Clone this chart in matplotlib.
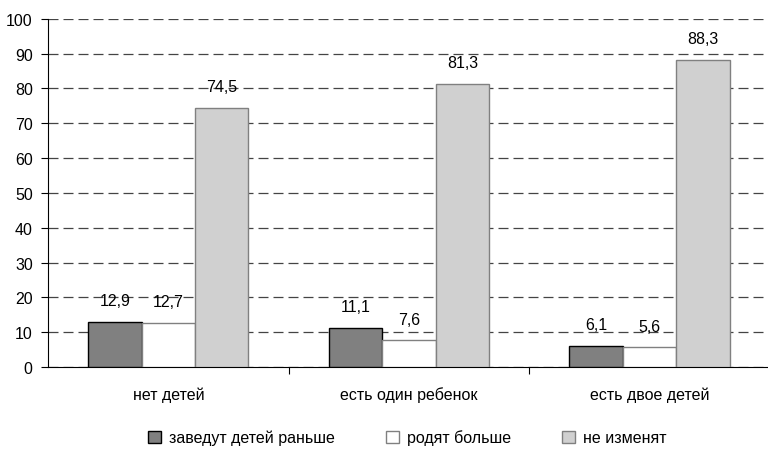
import numpy as np
import matplotlib.pyplot as plt

plt.rcParams['font.family'] = ['Liberation Sans', 'DejaVu Sans']

categories = ['нет детей', 'есть один ребенок', 'есть двое детей']
series = ['заведут детей раньше', 'родят больше', 'не изменят']
earlier = [12.9, 11.1, 6.1]
more = [12.7, 7.6, 5.6]
no_change = [74.5, 81.3, 88.3]

values = [earlier, more, no_change]
faces = ['#808080', '#ffffff', '#d0d0d0']
edges = ['#000000', '#808080', '#808080']

fig = plt.figure(figsize=(7.68, 4.52), dpi=100)
ax = fig.add_axes([0.0625, 0.186, 0.94, 0.770])

x = np.arange(len(categories))
w = 0.222
for i, (vals, fc, ec, name) in enumerate(zip(values, faces, edges, series)):
    pos = x + (i - 1) * w
    ax.bar(pos, vals, width=w, color=fc, edgecolor=ec, linewidth=1, label=name, zorder=3)
    for p, v in zip(pos, vals):
        ax.annotate(f'{v:.1f}'.replace('.', ','), (p, v), xytext=(0, 10),
                    textcoords='offset points', ha='center', va='bottom', fontsize=11.5)

ax.set_xlim(-0.5, 2.5)
ax.set_ylim(0, 100)
ax.set_yticks(range(0, 101, 10))
ax.yaxis.grid(True, linestyle=(0, (8, 4)), color='#444444', linewidth=0.9)
ax.set_axisbelow(True)
ax.set_xticks([0.5, 1.5], minor=False)
ax.set_xticklabels([])
ax.set_xticks(x, minor=True)
ax.set_xticklabels(categories, minor=True, fontsize=11.5)
ax.tick_params(axis='x', which='minor', length=0, pad=14)
ax.tick_params(axis='x', which='major', length=5, direction='out')
ax.tick_params(axis='y', labelsize=11.5, length=5, pad=6)
for s in ['top', 'right']:
    ax.spines[s].set_visible(False)

fig.legend(loc='center', bbox_to_anchor=(0.53, 0.03), ncol=3, frameon=False,
           fontsize=11.5, handlelength=0.8, handleheight=0.8, columnspacing=3.2, handletextpad=0.5)

fig.savefig('out.png', dpi=100)
